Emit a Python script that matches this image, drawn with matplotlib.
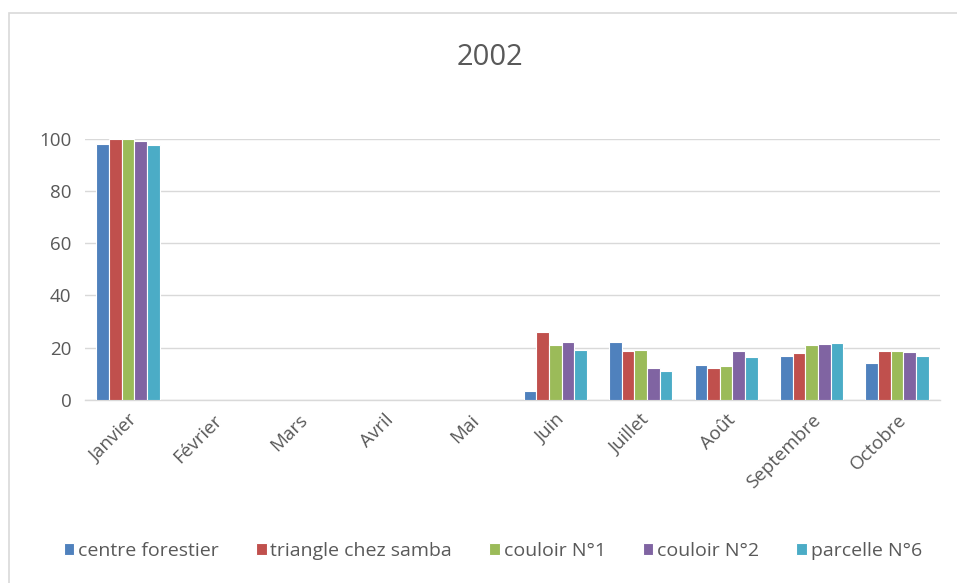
import matplotlib
matplotlib.use("Agg")
import matplotlib.pyplot as plt
import numpy as np

months = ["Janvier", "Février", "Mars", "Avril", "Mai", "Juin", "Juillet", "Août", "Septembre", "Octobre"]
series_names = ["centre forestier", "triangle chez samba", "couloir N°1", "couloir N°2", "parcelle N°6"]
centre_forestier = [98.1, 0, 0, 0, 0, 3.5, 22.0, 13.3, 17.0, 14.0]
triangle_chez_samba = [100.0, 0, 0, 0, 0, 26.0, 18.7, 12.4, 18.1, 18.8]
couloir_1 = [100.0, 0, 0, 0, 0, 20.9, 19.3, 13.1, 21.1, 18.6]
couloir_2 = [99.1, 0, 0, 0, 0, 22.0, 12.3, 18.6, 21.3, 18.5]
parcelle_6 = [97.6, 0, 0, 0, 0, 19.0, 11.0, 16.5, 21.8, 17.0]
yticks = [0, 20, 40, 60, 80, 100]

colors = ["#4F81BD", "#C0504D", "#9BBB59", "#8064A2", "#4BACC6"]
data = [centre_forestier, triangle_chez_samba, couloir_1, couloir_2, parcelle_6]

plt.rcParams['font.family'] = ['Open Sans', 'DejaVu Sans']
fig = plt.figure(figsize=(9.57, 5.83), dpi=100)
ax = fig.add_axes([0.089, 0.314, 0.893, 0.448])

x = np.arange(len(months))
w = 0.148
for i, (vals, c, name) in enumerate(zip(data, colors, series_names)):
    ax.bar(x + (i - 2) * w, vals, width=w, color=c, edgecolor="white", linewidth=0.8, label=name, zorder=3)

ax.set_xlim(-0.5, len(months) - 0.5)
ax.set_ylim(0, 100)
ax.set_yticks(yticks)
ax.set_xticks(x)
ax.set_xticklabels(months, rotation=45, ha="right", rotation_mode="anchor", fontsize=13.5, color="#595959")
ax.tick_params(axis="y", labelsize=13.5, labelcolor="#595959", length=0, pad=10)
ax.tick_params(axis="x", length=0, pad=8)
ax.grid(axis="y", color="#D9D9D9", linewidth=1, zorder=0)
for s in ["top", "right", "left"]:
    ax.spines[s].set_visible(False)
ax.spines["bottom"].set_color("#D9D9D9")
ax.spines["bottom"].set_linewidth(1)

fig.text(0.512, 0.902, "2002", ha="center", va="center", fontsize=21, color="#595959")

handles, labels = ax.get_legend_handles_labels()
fig.legend(handles, labels, loc="center", bbox_to_anchor=(0.515, 0.055), ncol=5, frameon=False,
           fontsize=14, handlelength=0.55, handleheight=0.55, handletextpad=0.2, columnspacing=1.9,
           labelcolor="#595959")

border = plt.Rectangle((0.0094, -0.01), 1.0, 0.988, transform=fig.transFigure, fill=False,
                       edgecolor="#D9D9D9", linewidth=1.2)
fig.patches.append(border)

fig.savefig("out.png", dpi=100)
